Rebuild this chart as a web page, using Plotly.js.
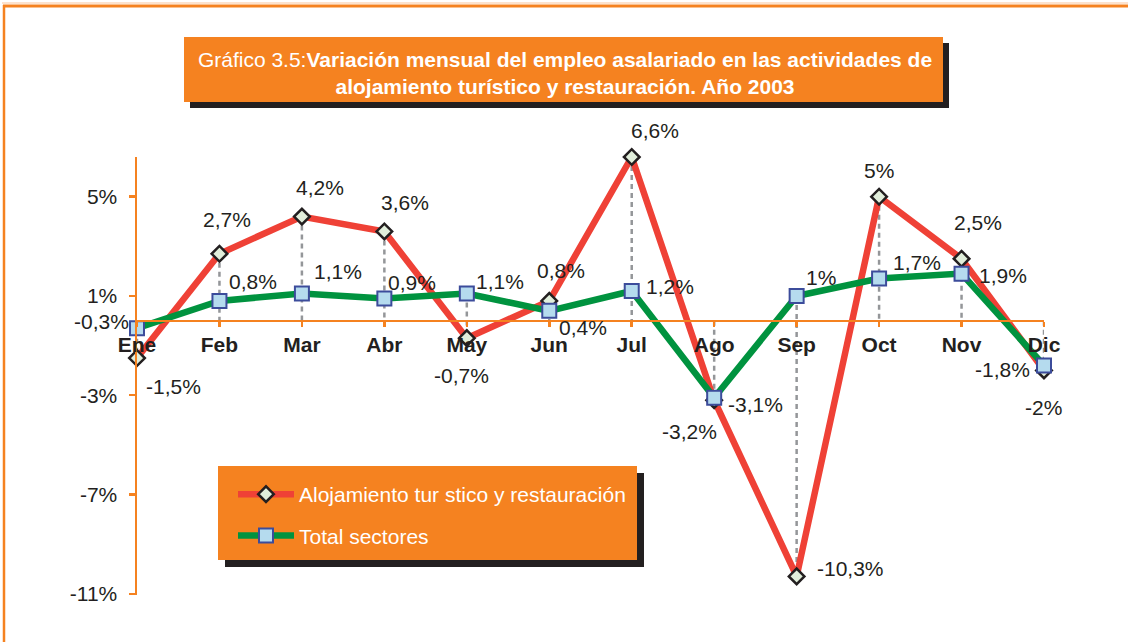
<!DOCTYPE html>
<html>
<head>
<meta charset="utf-8">
<script src="https://cdn.plot.ly/plotly-3.0.1.min.js"></script>
<style>
html,body{margin:0;padding:0;background:#ffffff;}
#chart{width:1128px;height:642px;}
</style>
</head>
<body>
<div id="chart"></div>
<script>
// ---- data ----
const months = ['Ene','Feb','Mar','Abr','May','Jun','Jul','Ago','Sep','Oct','Nov','Dic'];
const alojamiento = [-1.5, 2.7, 4.2, 3.6, -0.7, 0.8, 6.6, -3.2, -10.3, 5, 2.5, -2];
const totalSectores = [-0.3, 0.8, 1.1, 0.9, 1.1, 0.4, 1.2, -3.1, 1, 1.7, 1.9, -1.8];
const seriesNames = ['Alojamiento tur stico y restauración', 'Total sectores'];
const yTickVals = [-11, -7, -3, 1, 5];
const yTickText = ['-11%', '-7%', '-3%', '1%', '5%'];
const titleLight = 'Gráfico 3.5:';
const titleBold1 = 'Variación mensual del empleo asalariado en las actividades de';
const titleBold2 = 'alojamiento turístico y restauración. Año 2003';

// ---- styling (label offsets in px) ----
const alojShift = [[36,-28],[8,34],[18,29],[21,29],[-5,-37],[12,30],[23,27],[-25,-31],[54,8],[0,26],[16,36],[-1,-37]];
const totalShift = [[-36,7],[34,19],[36,22],[28,16],[33,12],[34,-17],[38,5],[41,-7],[24,18],[38,16],[41,-2],[-42,-4]];

const ORANGE = '#f58220';
const TEXT = '#231f20';
const FONT = 'Liberation Sans, Arial, sans-serif';
const FS = 21;
const W = 1128, H = 642;
const L = 137, R = 1044, T = 157, B = 595;
const xp = x => (x - L) / (R - L);
const yp = y => (B - y) / (B - T);
const yRange = [-11.05, 6.6];

const fmt = v => String(v).replace('.', ',') + '%';
const xIdx = months.map((m, i) => i);

// drop lines from data
const dropX = [], dropY = [];
xIdx.forEach(i => {
  const a = alojamiento[i], b = totalSectores[i];
  dropX.push(i, i, null);
  dropY.push(Math.max(a, b, 0), Math.min(a, b, 0), null);
});

const traces = [
  {x: dropX, y: dropY, mode: 'lines', showlegend: false, hoverinfo: 'skip',
   line: {color: '#949699', width: 2.5, dash: '5px,4px'}},
  {x: xIdx, y: alojamiento, name: seriesNames[0], legendgroup: 'a', mode: 'lines+markers',
   cliponaxis: false,
   line: {color: '#ef4136', width: 6.5},
   marker: {symbol: 'diamond', size: 12, color: '#e1eedb', line: {color: TEXT, width: 2.5}}},
  {x: xIdx, y: totalSectores, name: seriesNames[1], legendgroup: 'b', mode: 'lines+markers',
   cliponaxis: false,
   line: {color: '#00933f', width: 6.5},
   marker: {symbol: 'square', size: 14, color: '#b5dbee', line: {color: '#3c4c9b', width: 2}}}
];

const annotations = [];
xIdx.forEach(i => {
  annotations.push({x: i, y: alojamiento[i], text: fmt(alojamiento[i]), showarrow: false,
    xshift: alojShift[i][0], yshift: alojShift[i][1], font: {size: FS, color: TEXT, family: FONT}});
  annotations.push({x: i, y: totalSectores[i], text: fmt(totalSectores[i]), showarrow: false,
    xshift: totalShift[i][0], yshift: totalShift[i][1], font: {size: FS, color: TEXT, family: FONT}});
});

const rect = (x0, y0, x1, y1, color) => ({type: 'rect', xref: 'paper', yref: 'paper', layer: 'above',
  x0: xp(x0), x1: xp(x1), y0: yp(y1), y1: yp(y0), fillcolor: color, line: {width: 0}});
const line = (x0, y0, x1, y1, color, w) => ({type: 'line', xref: 'paper', yref: 'paper', layer: 'above',
  x0: xp(x0), x1: xp(x1), y0: yp(y0), y1: yp(y1), line: {color: color, width: w}});

const shapes = [
  line(2, 3, W, 3, '#fcd9bd', 1.5),
  line(3, 6, W, 6, ORANGE, 3),
  line(4, 5, 4, H, ORANGE, 2.5),
  rect(190, 43, 949, 108, TEXT),
  rect(184, 37, 943, 102, ORANGE),
  rect(225, 473, 644, 567, TEXT),
  rect(218, 466, 637, 560, ORANGE)
];

const layout = {
  width: W, height: H,
  margin: {l: L, r: W - R, t: T, b: H - B},
  paper_bgcolor: '#ffffff', plot_bgcolor: '#ffffff',
  font: {family: FONT, color: TEXT, size: FS},
  title: {
    text: titleLight + '<b>' + titleBold1 + '</b><br><b>' + titleBold2 + '</b>',
    x: 565 / W, xanchor: 'center', xref: 'container',
    y: 1 - 67 / H, yanchor: 'middle', yref: 'container',
    font: {family: FONT, size: FS, color: '#ffffff'}
  },
  xaxis: {
    range: [0, 11], anchor: 'free',
    position: (0 - yRange[0]) / (yRange[1] - yRange[0]),
    tickvals: xIdx, ticktext: months,
    showline: true, linecolor: ORANGE, linewidth: 2.5,
    ticks: 'outside', ticklen: 5, tickwidth: 2.5, tickcolor: ORANGE,
    showgrid: false, zeroline: false,
    tickfont: {family: FONT, size: FS, color: TEXT, weight: 'bold'}
  },
  yaxis: {
    range: yRange, tickvals: yTickVals, ticktext: yTickText,
    showline: true, linecolor: ORANGE, linewidth: 2.5,
    ticks: 'outside', ticklen: 6, tickwidth: 2.5, tickcolor: ORANGE,
    ticklabelstandoff: 7,
    showgrid: false, zeroline: false,
    tickfont: {family: FONT, size: FS, color: TEXT}
  },
  showlegend: true,
  legend: {
    x: xp(233), y: yp(474), xanchor: 'left', yanchor: 'top',
    bgcolor: 'rgba(0,0,0,0)', borderwidth: 0,
    font: {family: FONT, size: FS, color: '#ffffff'},
    itemwidth: 56,
    tracegroupgap: 11, traceorder: 'grouped'
  },
  shapes: shapes,
  annotations: annotations
};

Plotly.newPlot('chart', traces, layout, {displayModeBar: false, staticPlot: true});
</script>
</body>
</html>
